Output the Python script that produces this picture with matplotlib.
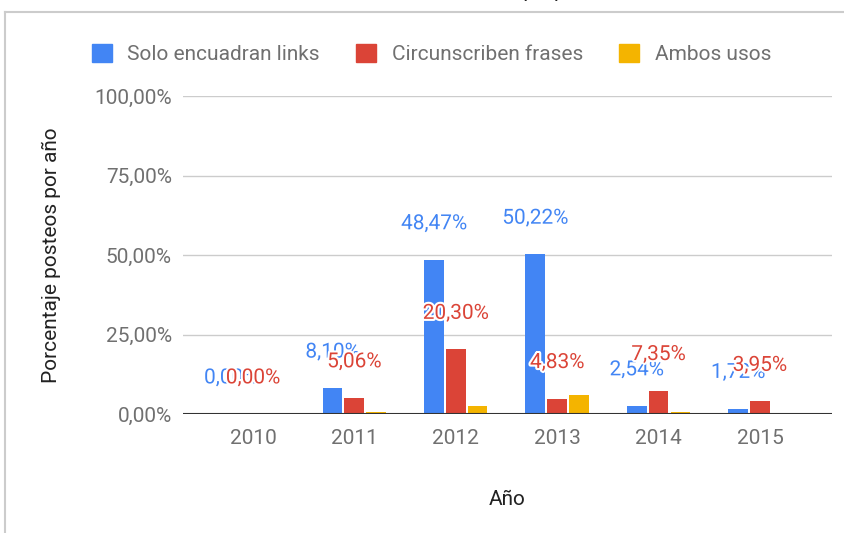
import matplotlib.pyplot as plt
import matplotlib.patheffects as pe
from matplotlib.lines import Line2D
from matplotlib.patches import Patch
import numpy as np

plt.rcParams['font.family'] = ['Roboto', 'DejaVu Sans']

years = ['2010', '2011', '2012', '2013', '2014', '2015']
series = ['Solo encuadran links', 'Circunscriben frases', 'Ambos usos']
solo_links = [0.00, 8.10, 48.47, 50.22, 2.54, 1.72]
frases = [0.00, 5.06, 20.30, 4.83, 7.35, 3.95]
ambos = [0.0, 0.7, 2.4, 5.9, 0.7, 0.0]
colors = ['#4285F4', '#DB4437', '#F4B400']

fig = plt.figure(figsize=(8.45, 5.33), dpi=100)
ax = fig.add_axes([183/845, 1 - 414/533, (832 - 183)/845, (414 - 96)/533])

x = np.arange(len(years))
w = 0.195
step = 0.215
for i, (vals, c) in enumerate(zip([solo_links, frases, ambos], colors)):
    ax.bar(x + (i - 1)*step, vals, w, color=c, zorder=3)

# data labels for the first two series
for i, vals in enumerate([solo_links, frases]):
    for xi, v in zip(x, vals):
        lab = f'{v:.2f}'.replace('.', ',') + '%'
        ax.annotate(lab, (xi + (i - 1)*step, v), xytext=(0, 26), textcoords='offset points',
                    ha='center', va='center', fontsize=15, color=colors[i], zorder=5,
                    path_effects=[pe.withStroke(linewidth=3, foreground='white')])

ax.set_xlim(-0.69, 5.71)
ax.set_ylim(0, 100)
ax.set_yticks([0, 25, 50, 75, 100])
ax.set_yticklabels(['0,00%', '25,00%', '50,00%', '75,00%', '100,00%'])
ax.set_xticks(x)
ax.set_xticklabels(years)
ax.tick_params(length=0, labelsize=15, labelcolor='#707070')
ax.tick_params(axis='y', pad=8)
ax.tick_params(axis='x', pad=11)
ax.grid(axis='y', color='#cccccc', linewidth=1, zorder=0)
for s in ax.spines.values():
    s.set_visible(False)
ax.axhline(0, color='#333333', linewidth=1.5, zorder=4)

ax.set_xlabel('Año', fontsize=15, color='#222222')
ax.set_ylabel('Porcentaje posteos por año', fontsize=15, color='#222222')
ax.xaxis.set_label_coords(0.5, -0.239)
ax.yaxis.set_label_coords(-0.188, 0.5)

handles = [Patch(facecolor=c, edgecolor=c) for c in colors]
fig.legend(handles, series, loc='center left', bbox_to_anchor=(73/845, 1 - 54/533),
           ncol=3, frameon=False, fontsize=15, labelcolor='#707070',
           handlelength=0.95, handleheight=1.0, handletextpad=0.75, columnspacing=1.75)

# chart frame and cut-off title
fig.add_artist(Line2D([5/845, 1], [1 - 12/533, 1 - 12/533], color='#cccccc', linewidth=1.5))
fig.add_artist(Line2D([5/845, 5/845], [0, 1 - 12/533], color='#cccccc', linewidth=1.5))
fig.text(583/845, 1 + 3/533, 'Uso de corchetes en texto propio', ha='right', va='baseline',
         fontsize=15, color='#222222')

fig.savefig('out.png', dpi=100)
